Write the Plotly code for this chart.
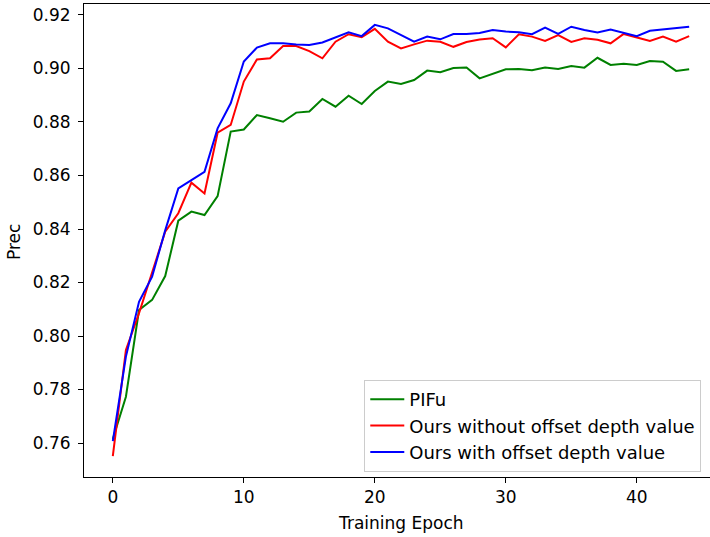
import plotly.graph_objects as go

epochs = list(range(45))

pifu = [0.7615, 0.7773, 0.8097, 0.8135, 0.8224, 0.8431, 0.8465, 0.8452, 0.8523, 0.8764,
        0.8772, 0.8826, 0.8814, 0.8801, 0.8835, 0.8839, 0.8886, 0.8857, 0.8898, 0.8867,
        0.8916, 0.8951, 0.8942, 0.8957, 0.8992, 0.8986, 0.9002, 0.9004, 0.8963, 0.8979,
        0.8997, 0.8998, 0.8993, 0.9004, 0.8998, 0.9009, 0.9003, 0.9040, 0.9013, 0.9018,
        0.9013, 0.9028, 0.9025, 0.8991, 0.8997]

ours_without = [0.7551, 0.7948, 0.8085, 0.8233, 0.8390, 0.8459, 0.8573, 0.8533, 0.8760, 0.8789,
                0.8951, 0.9034, 0.9038, 0.9084, 0.9084, 0.9065, 0.9038, 0.9100, 0.9128, 0.9117,
                0.9148, 0.9100, 0.9075, 0.9090, 0.9104, 0.9100, 0.9081, 0.9099, 0.9108, 0.9113,
                0.9079, 0.9128, 0.9119, 0.9103, 0.9125, 0.9099, 0.9113, 0.9107, 0.9094, 0.9129,
                0.9115, 0.9103, 0.9119, 0.9100, 0.9121]

ours_with = [0.7607, 0.7923, 0.8128, 0.8222, 0.8395, 0.8552, 0.8583, 0.8614, 0.8776, 0.8870,
             0.9026, 0.9078, 0.9094, 0.9094, 0.9090, 0.9088, 0.9097, 0.9117, 0.9135, 0.9121,
             0.9163, 0.9150, 0.9125, 0.9100, 0.9119, 0.9109, 0.9129, 0.9129, 0.9133, 0.9144,
             0.9138, 0.9135, 0.9128, 0.9153, 0.9129, 0.9156, 0.9144, 0.9135, 0.9146, 0.9134,
             0.9121, 0.9141, 0.9146, 0.9149, 0.9156]

series_names = ["PIFu", "Ours without offset depth value", "Ours with offset depth value"]
series_colors = ["#008000", "#ff0000", "#0000ff"]

x_ticks = [0, 10, 20, 30, 40]
y_ticks = [0.76, 0.78, 0.80, 0.82, 0.84, 0.86, 0.88, 0.90, 0.92]
y_tick_labels = ["0.76", "0.78", "0.80", "0.82", "0.84", "0.86", "0.88", "0.90", "0.92"]

FONT = "DejaVu Sans"
fig = go.Figure()
for name, vals, col in zip(series_names, [pifu, ours_without, ours_with], series_colors):
    fig.add_trace(go.Scatter(x=epochs, y=vals, mode="lines", name=name,
                             legendgroup=name,
                             line=dict(color=col, width=2)))

W, H = 710, 537
ml, mt, mb, mr = 83.5, 4, 60, 0
PW, PH = W - ml - mr, H - mt - mb
fig.update_layout(
    width=W, height=H,
    margin=dict(l=ml, r=mr, t=mt, b=mb, pad=0, autoexpand=False),
    paper_bgcolor="white", plot_bgcolor="white",
    font=dict(family=FONT, size=17, color="#000000"),
    showlegend=True,
    legend=dict(x=(364 - ml) / PW, y=(477 - 380) / PH,
                xanchor="left", yanchor="top",
                bgcolor="rgba(255,255,255,0.8)", bordercolor="#cccccc", borderwidth=1,
                font=dict(family=FONT, size=18, color="#000000"),
                itemwidth=34, tracegroupgap=0),
)
fig.update_xaxes(range=[-2.2, 45.59], tickvals=x_ticks, ticks="outside", ticklen=5,
                 tickwidth=1, tickcolor="black", showline=True, linecolor="black",
                 linewidth=1, mirror=True, showgrid=False, zeroline=False, automargin=False,
                 tickfont=dict(family=FONT, size=17))
fig.update_yaxes(range=[0.7473, 0.9241], tickvals=y_ticks, ticktext=y_tick_labels,
                 ticks="outside", ticklen=5, tickwidth=1, tickcolor="black",
                 showline=True, linecolor="black", linewidth=1, mirror=False,
                 showgrid=False, zeroline=False, automargin=False, ticklabelstandoff=4,
                 tickfont=dict(family=FONT, size=17))
fig.add_annotation(text="Training Epoch", xref="paper", yref="paper",
                   x=(400.7 - ml) / PW, y=(477 - 522.7) / PH,
                   xanchor="center", yanchor="middle", showarrow=False,
                   font=dict(family=FONT, size=17, color="#000000"))
fig.add_annotation(text="Prec", xref="paper", yref="paper",
                   x=(13.5 - ml) / PW, y=(477 - 242) / PH, textangle=-90,
                   xanchor="center", yanchor="middle", showarrow=False,
                   font=dict(family=FONT, size=17, color="#000000"))
fig.write_html("out.html", config={"displayModeBar": False},
               post_script="document.body.style.margin='0';")
